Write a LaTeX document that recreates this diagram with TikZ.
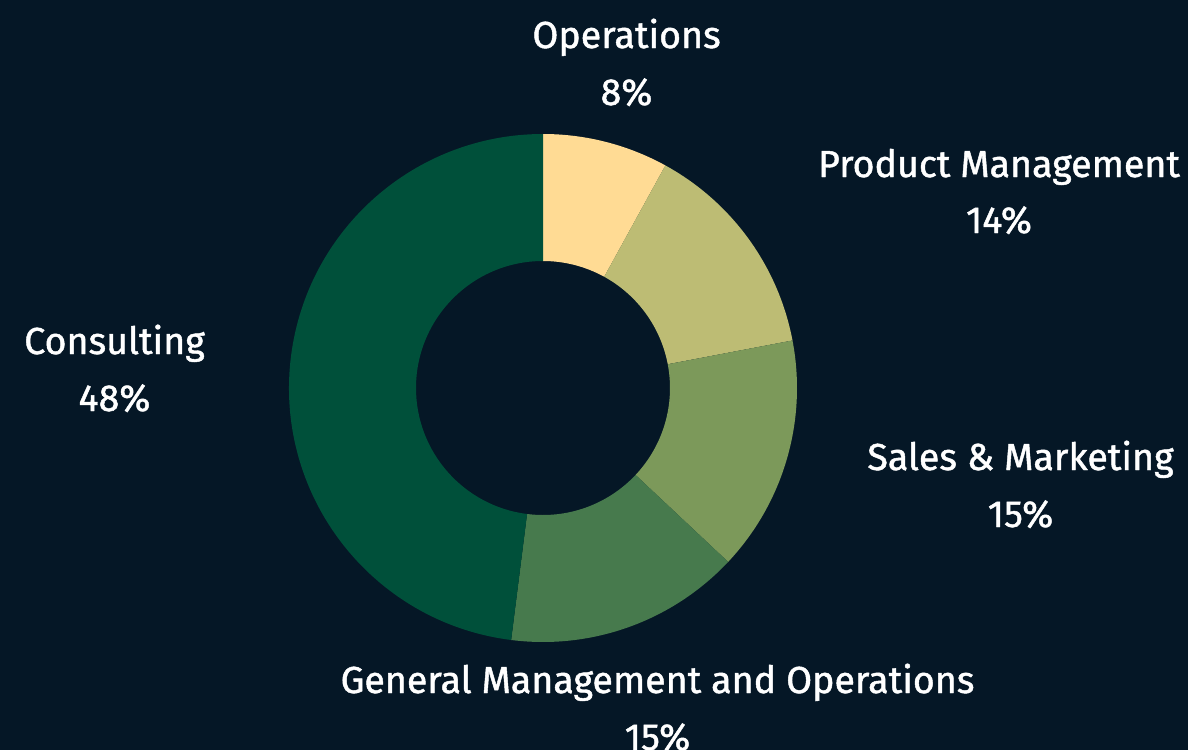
\documentclass[tikz,border=0pt]{standalone}
\usepackage{fontspec}
\setmainfont{Fira Sans}[FakeBold=1.2]
\definecolor{bg}{HTML}{051726}
\definecolor{cOps}{HTML}{FFDB94}
\definecolor{cProd}{HTML}{BDBC74}
\definecolor{cSales}{HTML}{7C995A}
\definecolor{cGen}{HTML}{477A4D}
\definecolor{cCons}{HTML}{00503A}
\tikzset{
  lbl/.style={text=white, anchor=base, inner sep=0pt, font=\fontsize{18.8}{22}\selectfont},
}
\newcommand{\seg}[3]{%
  \fill[#3] (#1:127pt) arc[start angle=#1, end angle=#2, radius=127pt]
    -- (#2:63.5pt) arc[start angle=#2, end angle=#1, radius=63.5pt] -- cycle;}
\begin{document}
\begin{tikzpicture}[x=0.5pt,y=-0.5pt]
\fill[bg] (0,0) rectangle (1188,750);
\useasboundingbox (0,0) rectangle (1188,750);
\coordinate (c) at (543,388);
\begin{scope}[shift={(c)}]
\seg{90}{61.2}{cOps}
\seg{61.2}{10.8}{cProd}
\seg{10.8}{-43.2}{cSales}
\seg{-43.2}{-97.2}{cGen}
\seg{-97.2}{-270}{cCons}
\end{scope}
\node[lbl] (opsT) at (626.5,48) {Operations};
\node[lbl] (opsP) at (626.5,105) {8\%};
\node[lbl] (prodT) at (999,177) {Product Management};
\node[lbl] (prodP) at (999,233) {14\%};
\node[lbl] (consT) at (114.5,354) {Consulting};
\node[lbl] (consP) at (114.5,411) {48\%};
\node[lbl] (salesT) at (1020.5,470) {Sales \& Marketing};
\node[lbl] (salesP) at (1020.5,527) {15\%};
\node[lbl] (genT) at (657.5,693) {General Management and Operations};
\node[lbl] (genP) at (657.5,750) {15\%};
\end{tikzpicture}
\end{document}
